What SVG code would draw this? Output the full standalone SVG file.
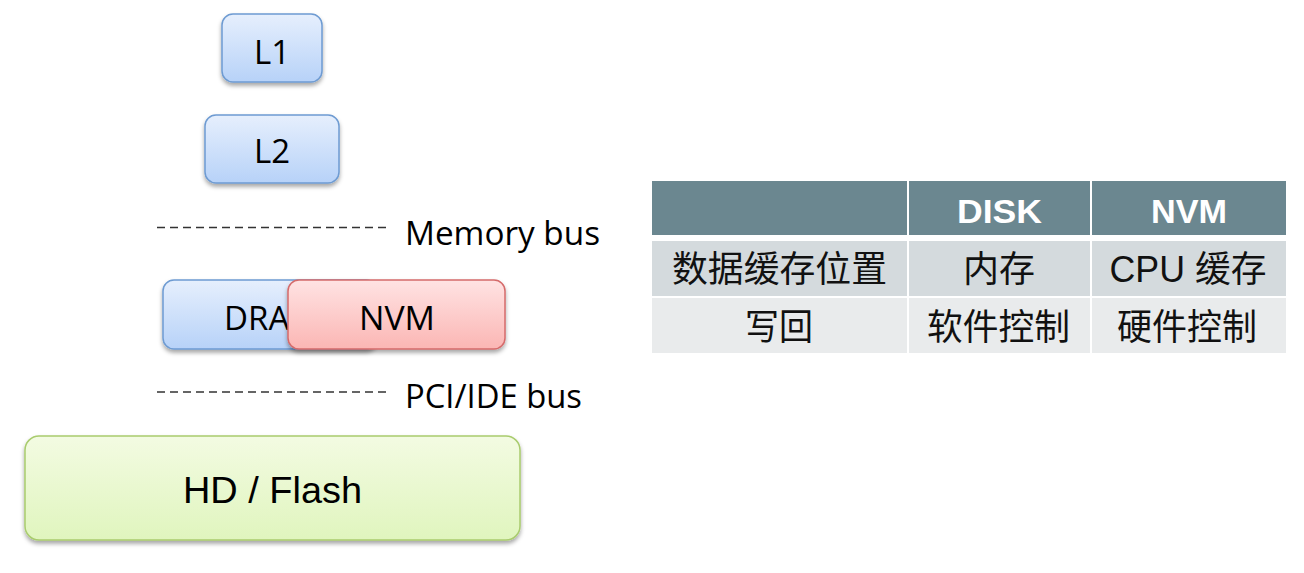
<svg xmlns="http://www.w3.org/2000/svg" width="1304" height="573" viewBox="0 0 1304 573">
<defs>
<linearGradient id="gBlue" x1="0" y1="0" x2="0" y2="1"><stop offset="0" stop-color="#e6effd"/><stop offset="1" stop-color="#b7d2f8"/></linearGradient>
<linearGradient id="gRed" x1="0" y1="0" x2="0" y2="1"><stop offset="0" stop-color="#ffe3e3"/><stop offset="1" stop-color="#fbb6b4"/></linearGradient>
<linearGradient id="gGreen" x1="0" y1="0" x2="0" y2="1"><stop offset="0" stop-color="#f3fbe2"/><stop offset="1" stop-color="#e0f5be"/></linearGradient>
<filter id="sh" x="-10%" y="-10%" width="120%" height="140%"><feDropShadow dx="0" dy="3" stdDeviation="2" flood-color="#000" flood-opacity="0.35"/></filter>
</defs>
<style>
.blue{fill:url(#gBlue);stroke:#6e9bd2;stroke-width:1.5}
.red{fill:url(#gRed);stroke:#d56b6b;stroke-width:1.5}
.green{fill:url(#gGreen);stroke:#a9cc6e;stroke-width:1.5}
.lbl{font-family:"Open Sans","Liberation Sans",sans-serif;font-size:33px;fill:#000}
.hd{font-family:"Liberation Sans",Arial,sans-serif;font-size:36px;fill:#000}
.dash{stroke:#333;stroke-width:1.5;stroke-dasharray:8 5;fill:none}
.th{font-family:"Liberation Sans",Arial,sans-serif;font-weight:bold;font-size:34px;fill:#fff}
.td{font-family:"Liberation Sans","Noto Sans CJK SC",sans-serif;font-size:36px;fill:#111}
.hdr{fill:#6b8790}.r1{fill:#d4dadd}.r2{fill:#e9ebec}
</style>
<rect width="1304" height="573" fill="#fff"/>
<g id="connectors">
<line class="dash" x1="157" y1="227.5" x2="387" y2="227.5"/>
<line class="dash" x1="157" y1="392" x2="387" y2="392"/>
</g>
<g id="memory-bus-label"><text class="lbl" x="405" y="245" textLength="195" lengthAdjust="spacingAndGlyphs">Memory bus</text></g>
<g id="pci-bus-label"><text class="lbl" x="405" y="408" textLength="177" lengthAdjust="spacingAndGlyphs">PCI/IDE bus</text></g>
<g id="L1"><rect class="blue" x="222" y="14" width="100" height="68" rx="11" filter="url(#sh)"/><text class="lbl" x="272" y="64" text-anchor="middle">L1</text></g>
<g id="L2"><rect class="blue" x="205" y="115" width="134" height="68" rx="11" filter="url(#sh)"/><text class="lbl" x="272" y="163" text-anchor="middle">L2</text></g>
<g id="DRAM"><rect class="blue" x="163" y="280" width="214" height="69" rx="11" filter="url(#sh)"/><text class="lbl" x="224" y="330" textLength="95" lengthAdjust="spacingAndGlyphs">DRAM</text></g>
<g id="NVM"><rect class="red" x="288" y="280" width="217" height="69" rx="11" filter="url(#sh)"/><text class="lbl" x="397" y="330" text-anchor="middle" textLength="76" lengthAdjust="spacingAndGlyphs">NVM</text></g>
<g id="HD"><rect class="green" x="25" y="436" width="495" height="104" rx="14" filter="url(#sh)"/><text class="hd" x="183" y="503" textLength="179" lengthAdjust="spacingAndGlyphs">HD / Flash</text></g>
<g id="table">
<rect class="hdr" x="652" y="181" width="255" height="54"/>
<rect class="hdr" x="909" y="181" width="181" height="54"/>
<rect class="hdr" x="1092" y="181" width="194" height="54"/>
<rect class="r1" x="652" y="241" width="255" height="55"/>
<rect class="r1" x="909" y="241" width="181" height="55"/>
<rect class="r1" x="1092" y="241" width="194" height="55"/>
<rect class="r2" x="652" y="298" width="255" height="55"/>
<rect class="r2" x="909" y="298" width="181" height="55"/>
<rect class="r2" x="1092" y="298" width="194" height="55"/>
<text class="th" x="999.5" y="223" text-anchor="middle" textLength="85" lengthAdjust="spacingAndGlyphs">DISK</text>
<text class="th" x="1189" y="223" text-anchor="middle" textLength="76" lengthAdjust="spacingAndGlyphs">NVM</text>
<text class="td" x="779.5" y="282" text-anchor="middle" textLength="215" lengthAdjust="spacingAndGlyphs">数据缓存位置</text>
<text class="td" x="999" y="282" text-anchor="middle" textLength="72" lengthAdjust="spacingAndGlyphs">内存</text>
<text class="td" x="1188" y="282" text-anchor="middle" textLength="157" lengthAdjust="spacingAndGlyphs">CPU 缓存</text>
<text class="td" x="779" y="340" text-anchor="middle" textLength="68" lengthAdjust="spacingAndGlyphs">写回</text>
<text class="td" x="998.5" y="340" text-anchor="middle" textLength="143" lengthAdjust="spacingAndGlyphs">软件控制</text>
<text class="td" x="1187" y="340" text-anchor="middle" textLength="140" lengthAdjust="spacingAndGlyphs">硬件控制</text>
</g>
</svg>
